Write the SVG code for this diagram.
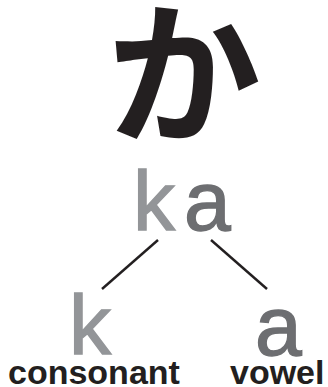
<svg xmlns="http://www.w3.org/2000/svg" width="328" height="387" viewBox="0 0 328 387">
  <style>
    .kana { font-family: "Noto Sans CJK JP", "Noto Sans CJK SC", sans-serif; font-weight: bold; fill: #231f20; }
    .big { font-family: "Liberation Sans", Arial, sans-serif; font-size: 84px; stroke-width: 1.4; }
    .cons { fill: #939598; stroke: #939598; }
    .vow { fill: #6d6e71; stroke: #6d6e71; }
    .label { font-family: "Liberation Sans", Arial, sans-serif; font-size: 34px; font-weight: bold; fill: #231f20; }
    .conn line { stroke: #231f20; stroke-width: 2.4; }
  </style>
  <rect width="328" height="387" fill="#ffffff"/>
  <g id="kana">
    <text class="kana" x="184" y="132" font-size="154" text-anchor="middle">か</text>
  </g>
  <g id="syllable">
    <text class="big cons" x="133" y="230">k</text>
    <text class="big vow" x="184" y="230">a</text>
  </g>
  <g id="consonant">
    <text class="big cons" x="69" y="354">k</text>
    <text class="label" x="8" y="384">consonant</text>
  </g>
  <g id="vowel">
    <text class="big vow" x="255" y="355">a</text>
    <text class="label" x="230" y="384">vowel</text>
  </g>
  <g id="connectors" class="conn">
    <line x1="158" y1="240" x2="102" y2="289"/>
    <line x1="211" y1="240" x2="267" y2="289"/>
  </g>
</svg>
